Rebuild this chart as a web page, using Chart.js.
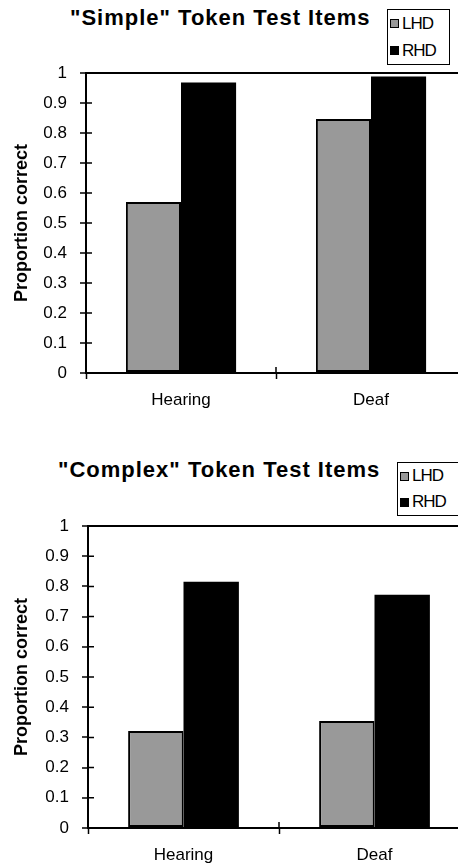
<!DOCTYPE html>
<html lang="en">
  <head>
    <meta charset="UTF-8" />
    <meta name="viewport" content="width=device-width, initial-scale=1.0" />
    <title>Token Test Items</title>
    <script src="https://cdn.jsdelivr.net/npm/chart.js"></script>
    <style>
      body {
        margin: 0;
        width: 458px;
        height: 867px;
        overflow: hidden;
        background: #fff;
        position: relative;
        font-family: "Liberation Sans", Arial, sans-serif;
        color: #000;
      }
      .panel {
        position: absolute;
        left: 0;
      }
      .title {
        position: absolute;
        font-weight: bold;
        font-size: 22px;
        line-height: 26px;
        letter-spacing: 1px;
        white-space: nowrap;
      }
      .legend {
        position: absolute;
        border: 1px solid #000;
        box-sizing: border-box;
        font-size: 17px;
        letter-spacing: -1px;
        padding-left: 2px;
        background: #fff;
      }
      .legend .row {
        display: flex;
        align-items: center;
      }
      .swatch {
        width: 7px;
        height: 7px;
        border: 1px solid #000;
        margin-right: 3px;
      }
    </style>
  </head>
  <body>
    <div class="title" style="left: 70px; top: 5px">"Simple" Token Test Items</div>
    <div class="legend" id="legend1" style="left: 387px; top: 9px; width: 63px"></div>
    <div class="panel" style="top: 0">
      <canvas id="simpleChart" width="466" height="420"></canvas>
    </div>

    <div class="title" style="left: 58px; top: 457px">"Complex" Token Test Items</div>
    <div class="legend" id="legend2" style="left: 397px; top: 462px; width: 64px"></div>
    <div class="panel" style="top: 420px">
      <canvas id="complexChart" width="470" height="447"></canvas>
    </div>

    <script>
      const categories = ["Hearing", "Deaf"];
      const seriesNames = ["LHD", "RHD"];
      const seriesColors = ["#999999", "#000000"];

      const simpleLHD = [0.57, 0.847];
      const simpleRHD = [0.968, 0.988];
      const complexLHD = [0.321, 0.354];
      const complexRHD = [0.815, 0.772];

      const yMin = 0;
      const yMax = 1;
      const yStep = 0.1;

      const FONT = "'Liberation Sans', Arial, sans-serif";

      // ticks that cross the axis lines, like the original
      const crossTicks = {
        id: "crossTicks",
        afterDatasetsDraw(chart) {
          const ctx = chart.ctx;
          const area = chart.chartArea;
          const x = chart.scales.x;
          const y = chart.scales.y;
          ctx.save();
          ctx.strokeStyle = "#000";
          ctx.lineWidth = 1.5;
          ctx.beginPath();
          y.ticks.forEach((t, i) => {
            const py = y.getPixelForTick(i);
            ctx.moveTo(area.left, py);
            ctx.lineTo(area.left + 6, py);
          });
          for (let i = 1; i < x.ticks.length; i++) {
            const px = (x.getPixelForTick(i - 1) + x.getPixelForTick(i)) / 2;
            ctx.moveTo(px, area.bottom);
            ctx.lineTo(px, area.bottom - 6);
          }
          ctx.stroke();
          ctx.restore();
        },
      };

      function makeChart(id, lhd, rhd, axisLeft, areaTop, xHeight) {
        return new Chart(document.getElementById(id).getContext("2d"), {
          type: "bar",
          data: {
            labels: categories,
            datasets: [
              {
                label: seriesNames[0],
                data: lhd,
                backgroundColor: seriesColors[0],
                borderColor: "#000",
                borderWidth: 2,
                borderSkipped: false,
              },
              {
                label: seriesNames[1],
                data: rhd,
                backgroundColor: seriesColors[1],
                borderColor: "#000",
                borderWidth: 0,
              },
            ],
          },
          options: {
            responsive: false,
            animation: false,
            categoryPercentage: 0.58,
            barPercentage: 1,
            layout: { padding: { top: areaTop, left: 0, right: 0, bottom: 0 } },
            plugins: {
              legend: { display: false },
              title: { display: false },
              tooltip: { enabled: false },
            },
            scales: {
              x: {
                offset: true,
                grid: {
                  offset: true,
                  drawOnChartArea: false,
                  drawTicks: true,
                  tickLength: 6,
                  color: "#000",
                  tickColor: "#000",
                  tickWidth: 1.5,
                },
                border: { display: true, color: "#000", width: 2 },
                ticks: {
                  color: "#000",
                  padding: 11,
                  font: { family: FONT, size: 17 },
                },
                afterFit(scale) {
                  scale.height = xHeight;
                },
              },
              y: {
                min: yMin,
                max: yMax,
                grid: {
                  drawTicks: true,
                  tickLength: 6,
                  color: (c) =>
                    c.tick && c.tick.value === yMax ? "#000" : "rgba(0,0,0,0)",
                  lineWidth: 2,
                  tickColor: "#000",
                  tickWidth: 1.5,
                },
                border: { display: true, color: "#000", width: 2 },
                ticks: {
                  stepSize: yStep,
                  color: "#000",
                  padding: 13,
                  font: { family: FONT, size: 17 },
                  callback: (v) => String(+v.toFixed(1)),
                },
                title: {
                  display: true,
                  text: "Proportion correct",
                  color: "#000",
                  padding: { top: 11, bottom: 0 },
                  font: { family: FONT, size: 18, weight: "bold" },
                },
                afterFit(scale) {
                  scale.width = axisLeft;
                },
              },
            },
          },
          plugins: [crossTicks],
        });
      }

      function buildLegend(elId, rowHeight) {
        const el = document.getElementById(elId);
        seriesNames.forEach((name, i) => {
          const row = document.createElement("div");
          row.className = "row";
          row.style.height = rowHeight + "px";
          const sw = document.createElement("span");
          sw.className = "swatch";
          sw.style.background = seriesColors[i];
          const txt = document.createElement("span");
          txt.textContent = name;
          row.appendChild(sw);
          row.appendChild(txt);
          el.appendChild(row);
        });
      }

      function initialize() {
        makeChart("simpleChart", simpleLHD, simpleRHD, 86, 73, 47);
        makeChart("complexChart", complexLHD, complexRHD, 88, 106, 39);
        buildLegend("legend1", 27);
        buildLegend("legend2", 26);
      }

      document.addEventListener("DOMContentLoaded", initialize);
    </script>
  </body>
</html>
